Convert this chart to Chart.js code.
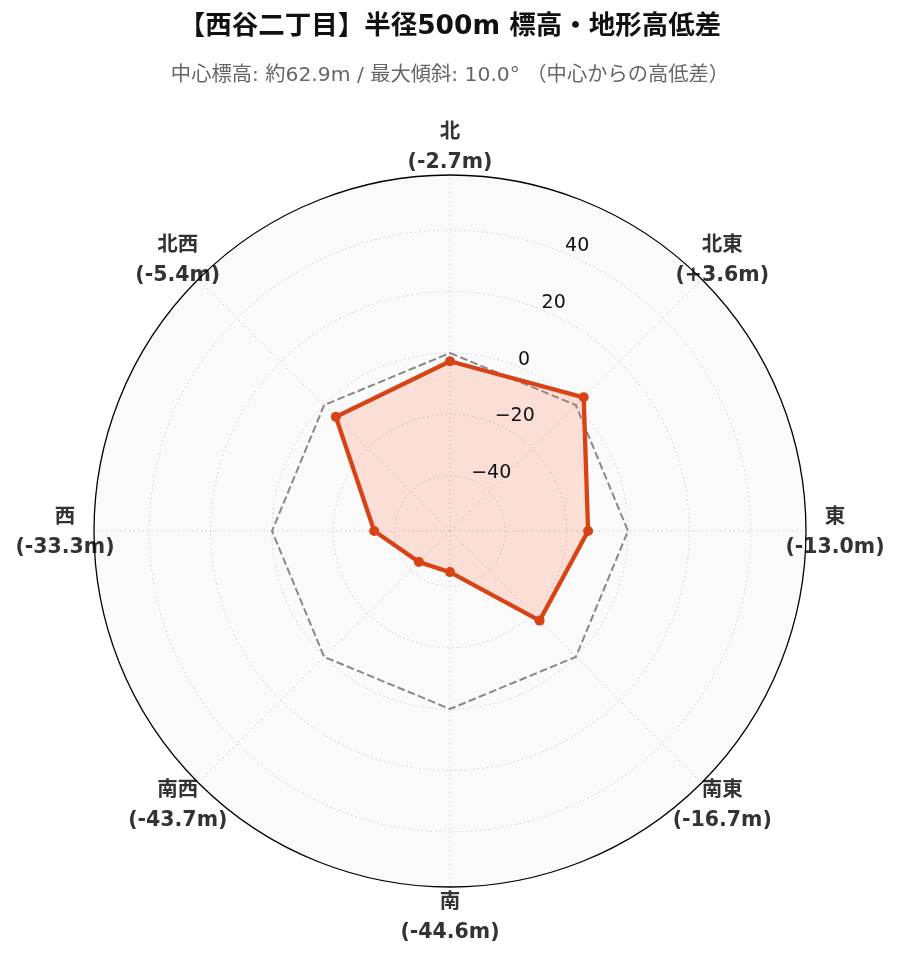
<!DOCTYPE html>
<html>
<head>
<meta charset="utf-8">
<script src="https://cdn.jsdelivr.net/npm/chart.js@4.4.1/dist/chart.umd.min.js"></script>
<style>
  html, body { margin: 0; padding: 0; background: #fff; }
  #wrap { width: 899px; height: 962px; }
</style>
</head>
<body>
<div id="wrap"><canvas id="elevChart"></canvas></div>
<script>
// directions, clockwise from north
let directions = ['北', '北東', '東', '南東', '南', '南西', '西', '北西'];
// height difference from center (m)
let diffs = [-2.7, 3.6, -13.0, -16.7, -44.6, -43.7, -33.3, -5.4];
// zero reference
let zeroLine = [0, 0, 0, 0, 0, 0, 0, 0];
let rTicks = [-40, -20, 0, 20, 40];
let rMin = -58, rMax = 58;

let titleText = '【西谷二丁目】半径500m 標高・地形高低差';
let subtitleText = '中心標高: 約62.9m / 最大傾斜: 10.0° （中心からの高低差）';

const mixFont = '"DejaVu Sans", "Noto Sans CJK JP"';

function fmtDiff(v) {
    return '(' + (v > 0 ? '+' : '') + v.toFixed(1) + 'm)';
}

// light background disc inside the polar area
const discPlugin = {
    id: 'disc',
    beforeDraw(chart) {
        const s = chart.scales.r;
        const ctx = chart.ctx;
        ctx.save();
        ctx.beginPath();
        ctx.arc(s.xCenter, s.yCenter, s.drawingArea, 0, Math.PI * 2);
        ctx.fillStyle = '#fafafa';
        ctx.fill();
        ctx.restore();
    },
    afterDraw(chart) {
        const s = chart.scales.r;
        const ctx = chart.ctx;
        ctx.save();
        // radial tick labels at 22.5 degrees
        ctx.font = '19px "DejaVu Sans"';
        ctx.fillStyle = '#111';
        ctx.textAlign = 'left';
        ctx.textBaseline = 'alphabetic';
        rTicks.forEach(v => {
            const p = s.getPointPosition(0, s.getDistanceFromCenterForValue(v), Math.PI / 8);
            ctx.fillText(String(v).replace('-', '\u2212'), p.x, p.y - 2);
        });
        // direction labels
        ctx.fillStyle = '#333';
        ctx.textAlign = 'center';
        ctx.textBaseline = 'middle';
        ctx.font = 'bold 20.5px ' + mixFont;
        directions.forEach((d, i) => {
            const p = s.getPointPosition(i, s.drawingArea + 29);
            ctx.fillText(d, p.x, p.y - 13);
            ctx.fillText(fmtDiff(diffs[i]), p.x, p.y + 17);
        });
        // outer frame
        ctx.beginPath();
        ctx.arc(s.xCenter, s.yCenter, s.drawingArea, 0, Math.PI * 2);
        ctx.strokeStyle = '#000';
        ctx.lineWidth = 1.3;
        ctx.stroke();
        ctx.restore();
    }
};

let elevChart = new Chart(document.getElementById('elevChart'), {
    type: 'radar',
    data: {
        labels: directions,
        datasets: [
            {
                label: '高低差',
                data: diffs,
                borderColor: '#d84315',
                backgroundColor: 'rgba(255,112,67,0.2)',
                borderWidth: 4.3,
                fill: 'start',
                tension: 0,
                pointRadius: 5,
                pointBorderWidth: 0,
                pointBackgroundColor: '#d84315'
            },
            {
                label: '基準 (0m)',
                data: zeroLine,
                borderColor: '#888',
                borderWidth: 2,
                borderDash: [7.7, 3.3],
                fill: false,
                tension: 0,
                pointRadius: 0
            }
        ]
    },
    plugins: [discPlugin],
    options: {
        responsive: true,
        maintainAspectRatio: false,
        animation: false,
        layout: {
            padding: { left: 94, right: 93, top: 0, bottom: 75 }
        },
        plugins: {
            legend: { display: false },
            tooltip: { enabled: false },
            title: {
                display: true,
                text: titleText,
                color: '#111',
                font: { family: mixFont, size: 26.5, weight: 'bold', lineHeight: 1.2 },
                padding: { top: 11, bottom: 10 }
            },
            subtitle: {
                display: true,
                text: subtitleText,
                color: '#666',
                font: { family: mixFont, size: 20.3, lineHeight: 1.2 },
                padding: { top: 11, bottom: 86.84 }
            }
        },
        scales: {
            r: {
                min: rMin,
                max: rMax,
                afterBuildTicks(scale) {
                    scale.ticks = rTicks.map(v => ({ value: v }));
                },
                ticks: { display: false },
                pointLabels: { display: false },
                grid: {
                    circular: true,
                    color: '#cfcfcf',
                    lineWidth: 1
                },
                border: { dash: [1.5, 3] },
                angleLines: {
                    display: true,
                    color: '#cfcfcf',
                    lineWidth: 1,
                    borderDash: [1.5, 3]
                }
            }
        }
    }
});
</script>
</body>
</html>
